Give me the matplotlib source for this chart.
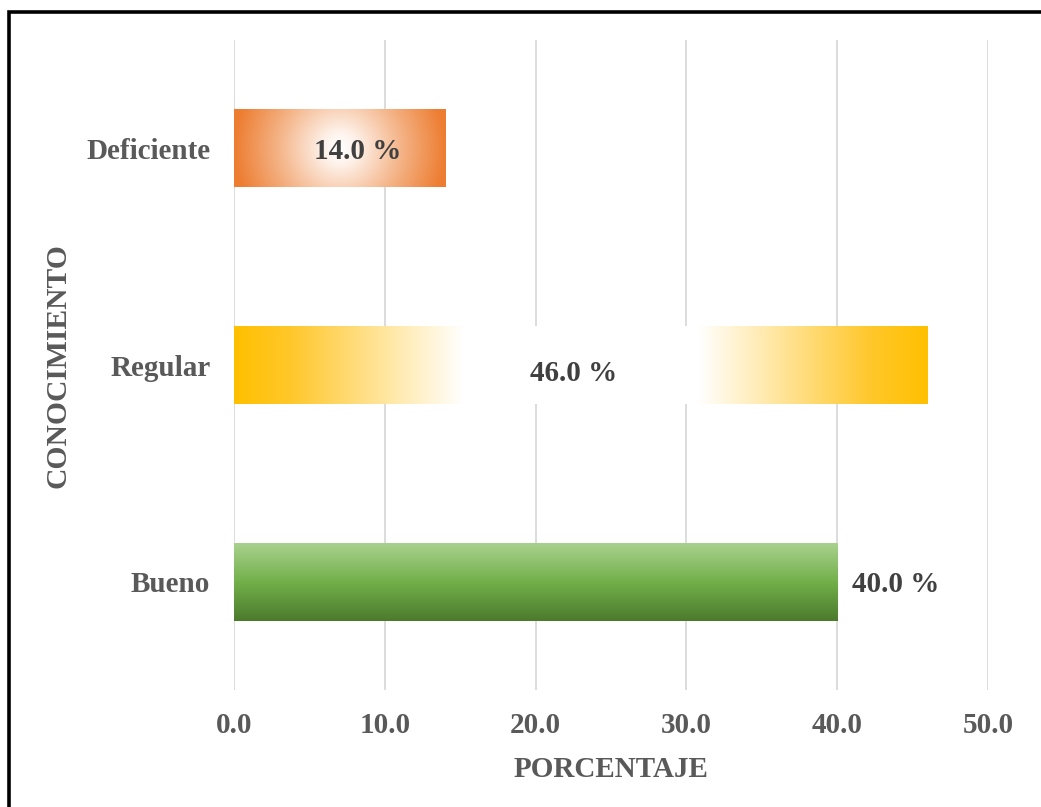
import numpy as np
import matplotlib.pyplot as plt
from matplotlib.colors import to_rgb
from matplotlib.lines import Line2D

# data (bottom to top)
categorias = ['Bueno', 'Regular', 'Deficiente']
porcentajes = [40.0, 46.0, 14.0]
x_ticks = [0, 10, 20, 30, 40, 50]

plt.rcParams['font.family'] = ['Liberation Serif', 'DejaVu Serif']
plt.rcParams['font.weight'] = 'bold'

gris = '#595959'
oscuro = '#404040'

fig = plt.figure(figsize=(10.41, 8.07), dpi=100)
ax = fig.add_axes([0.2248, 0.1450, 0.7243, 0.8054])

bars = ax.barh(range(len(categorias)), porcentajes, height=0.36,
               color='none', edgecolor='none', zorder=3)

ax.set_xlim(0, 50)
ax.set_ylim(-0.5, 2.5)


def stops_gradient(t, stops):
    # stops: list of (pos, color)
    pos = [p for p, _ in stops]
    cols = np.array([to_rgb(c) for _, c in stops])
    out = np.zeros(t.shape + (3,))
    for k in range(3):
        out[..., k] = np.interp(t, pos, cols[:, k])
    return out


for bar, cat in zip(bars, categorias):
    x0, y0 = bar.get_x(), bar.get_y()
    w, h = bar.get_width(), bar.get_height()
    nx, ny = 400, 120
    if cat == 'Bueno':
        t = np.linspace(0, 1, ny)[:, None] * np.ones((1, nx))
        img = stops_gradient(t, [(0, '#4B7A2C'), (0.5, '#72B04A'), (1, '#A9D18E')])
    elif cat == 'Regular':
        t = np.ones((ny, 1)) * np.linspace(0, 1, nx)[None, :]
        img = stops_gradient(t, [(0, '#FFC000'), (0.08, '#FFC72A'),
                                 (0.33, '#FFFFFF'), (0.67, '#FFFFFF'),
                                 (0.92, '#FFC72A'), (1, '#FFC000')])
    else:
        # radial gradient measured in pixels
        p0 = ax.transData.transform((x0, y0))
        p1 = ax.transData.transform((x0 + w, y0 + h))
        wpx, hpx = p1[0] - p0[0], p1[1] - p0[1]
        u = (np.linspace(0, 1, nx) - 0.5) * wpx
        v = (np.linspace(0, 1, ny) - 0.5) * hpx
        r = np.sqrt(u[None, :] ** 2 + v[:, None] ** 2) / (wpx / 2)
        t = np.clip(r, 0, 1)
        img = stops_gradient(t, [(0, '#FFFFFF'), (0.15, '#FEF3EC'),
                                 (0.6, '#F4B183'), (1, '#ED7D31')])
    im = ax.imshow(img, extent=(x0, x0 + w, y0, y0 + h), origin='lower',
                   aspect='auto', zorder=3, interpolation='bilinear')
    im.set_clip_path(bar)

ax.set_xlim(0, 50)
ax.set_ylim(-0.5, 2.5)

# etiquetas de datos
for i, (cat, val) in enumerate(zip(categorias, porcentajes)):
    label = f'{val:.1f} %'
    if cat == 'Bueno':
        ax.text(val + 0.95, i - 0.012, label, ha='left', va='center',
                fontsize=21, color=oscuro, zorder=5)
    elif cat == 'Regular':
        ax.text(val / 2 - 0.5, i - 0.04, label, ha='center', va='center',
                fontsize=21, color=oscuro, zorder=5)
    else:
        ax.text(val / 2 + 1.2, i - 0.016, label, ha='center', va='center',
                fontsize=21, color=oscuro, zorder=5)

ax.set_xticks(x_ticks)
ax.set_xticklabels([f'{v:.1f}' for v in x_ticks], fontsize=21, color=gris)
ax.set_yticks(range(len(categorias)))
ax.set_yticklabels(categorias, fontsize=21, color=gris)
ax.tick_params(axis='both', length=0)
ax.tick_params(axis='y', pad=17)
ax.tick_params(axis='x', pad=16)

ax.grid(True, axis='x', color='#D9D9D9', linewidth=1.3, zorder=0)
ax.set_axisbelow(True)
for s in ax.spines.values():
    s.set_visible(False)

ax.text(0.5, -0.122, 'PORCENTAJE', transform=ax.transAxes, ha='center',
        va='center', fontsize=21, color=gris)
ax.text(-0.233, 0.499, 'CONOCIMIENTO', transform=ax.transAxes, ha='center',
        va='center', rotation=90, fontsize=21.3, color=gris)

# marco negro (solo arriba e izquierda, la imagen esta recortada)
fig.add_artist(Line2D([8.5 / 1041, 8.5 / 1041, 1.0],
                      [0.0, 1 - 12 / 807, 1 - 12 / 807],
                      transform=fig.transFigure, color='black', linewidth=2.6,
                      solid_joinstyle='miter'))

fig.savefig('out.png', dpi=100)
